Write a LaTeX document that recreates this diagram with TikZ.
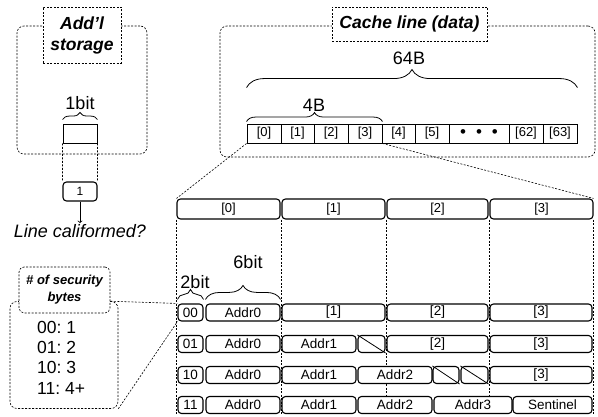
\documentclass[tikz,border=0pt]{standalone}
\usepackage{fontspec}
\setmainfont{Liberation Sans}
\usetikzlibrary{decorations.pathreplacing,backgrounds}
\frenchspacing

\tikzset{
	cell/.style={draw,fill=white,line width=0.9pt,minimum height=19,inner sep=0pt,font=\fontsize{13}{13}\selectfont},
	field/.style={draw,fill=white,line width=1.1pt,rounded corners=3.5pt,minimum height=17,inner sep=0pt,font=\fontsize{13.5}{13.5}\selectfont},
	dashline/.style={line width=0.6pt,dash pattern=on 2pt off 1.5pt},
	outerbox/.style={dashline,draw,rounded corners=7pt,inner sep=0pt},
	titlebox/.style={dashline,draw,fill=white,inner sep=0pt,align=center,font=\fontsize{17.5}{21}\selectfont\bfseries\itshape},
	label/.style={inner sep=1pt,font=\fontsize{18}{18}\selectfont},
	bracket/.style={decorate,line width=0.8pt,decoration={brace,amplitude=#1}}
}

\begin{document}
\begin{tikzpicture}[x=1pt,y=-1pt]
	\useasboundingbox (0,0) rectangle (598,417);

	% dashed frames with their titles
	\begin{scope}
		\node[outerbox,minimum width=130,minimum height=128] (storebox) at (82,90) {};
		\node[titlebox,minimum width=78,minimum height=56] (storetitle) at (82,35) {Add’l\\storage};
		\node[outerbox,minimum width=375,minimum height=131] (cachebox) at (407.5,91.5) {};
		\node[titlebox,minimum width=155,minimum height=34] (cachetitle) at (409.5,24) {Cache line (data)};
		\node[outerbox,minimum width=108,minimum height=107] (secbox) at (64,355) {};
		\node[titlebox,rounded corners=5pt,minimum width=91,minimum height=46,font=\fontsize{13}{17}\selectfont\bfseries\itshape] (sectitle) at (64.5,290) {\# of security\\bytes};
	\end{scope}

	% additional storage bit
	\begin{scope}
		\node[cell,minimum width=34] (bitbox) at (80,133.5) {};
		\node[field,minimum width=34,minimum height=19,font=\fontsize{12}{12}\selectfont] (onebox) at (80,191.5) {1};
		\node[label] (bitlabel) at (80,103) {1bit};
		\node[label,font=\fontsize{18}{18}\selectfont\itshape] (question) at (80,231) {Line califormed?};
	\end{scope}

	% the 64 bytes of the cache line
	\begin{scope}[every node/.style={cell}]
		\node[minimum width=34] (c0) at (264,133.5) {[0]};
		\node[minimum width=33] (c1) at (297.5,133.5) {[1]};
		\node[minimum width=34] (c2) at (331,133.5) {[2]};
		\node[minimum width=34] (c3) at (365,133.5) {[3]};
		\node[minimum width=33] (c4) at (398.5,133.5) {[4]};
		\node[minimum width=34] (c5) at (432,133.5) {[5]};
		\node[minimum width=60,font=\fontsize{17}{17}\selectfont] (cdots) at (479,133.5) {•\hspace{10pt}•\hspace{10pt}•};
		\node[minimum width=34] (c62) at (526,133.5) {[62]};
		\node[minimum width=34] (c63) at (560,133.5) {[63]};
	\end{scope}
	\node[label] (cachelabel) at (409,58) {64B};
	\node[label] (wordlabel) at (314,105) {4B};

	% first four bytes
	\begin{scope}[every node/.style={field,minimum height=20,font=\fontsize{13}{13}\selectfont}]
		\node[minimum width=103] (h0) at (228.5,209) {[0]};
		\node[minimum width=103] (h1) at (333.5,209) {[1]};
		\node[minimum width=101] (h2) at (437.5,209) {[2]};
		\node[minimum width=103] (h3) at (541.5,209) {[3]};
	\end{scope}

	% encodings
	\begin{scope}[every node/.style={field}]
		\node[minimum width=25] (r1a) at (190.5,312.5) {00};
		\node[minimum width=74] (r1b) at (243,312.5) {Addr0};
		\node[minimum width=103] (r1c) at (333.5,312.5) {[1]};
		\node[minimum width=101] (r1d) at (437.5,312.5) {[2]};
		\node[minimum width=102] (r1e) at (541,312.5) {[3]};

		\node[minimum width=25] (r2a) at (190.5,344) {01};
		\node[minimum width=74] (r2b) at (243,344) {Addr0};
		\node[minimum width=74] (r2c) at (319,344) {Addr1};
		\node[minimum width=27] (r2s) at (371.5,344) {};
		\node[minimum width=101] (r2d) at (437.5,344) {[2]};
		\node[minimum width=102] (r2e) at (541,344) {[3]};

		\node[minimum width=25] (r3a) at (190.5,375) {10};
		\node[minimum width=74] (r3b) at (243,375) {Addr0};
		\node[minimum width=74] (r3c) at (319,375) {Addr1};
		\node[minimum width=74] (r3d) at (395,375) {Addr2};
		\node[minimum width=26] (r3s) at (446,375) {};
		\node[minimum width=27] (r3t) at (474.5,375) {};
		\node[minimum width=102] (r3e) at (541,375) {[3]};

		\node[minimum width=25] (r4a) at (190.5,405) {11};
		\node[minimum width=74] (r4b) at (243,405) {Addr0};
		\node[minimum width=74] (r4c) at (319,405) {Addr1};
		\node[minimum width=74] (r4d) at (395,405) {Addr2};
		\node[minimum width=78] (r4e) at (473,405) {Addr3};
		\node[minimum width=79] (r4f) at (552.5,405) {Sentinel};
	\end{scope}
	\node[label] (twolabel) at (195,282) {2bit};
	\node[label] (sixlabel) at (248,262) {6bit};

	\node[anchor=west,align=left,inner sep=0pt,font=\fontsize{17.5}{20.3}\selectfont] (seclist) at (37,357.5) {00: 1\\01: 2\\10: 3\\11: 4+};

	% unused slots
	\begin{scope}[line width=0.8pt]
		\draw (r2s.north west) -- (r2s.south east);
		\draw (r3s.north west) -- (r3s.south east);
		\draw (r3t.north west) -- (r3t.south east);
	\end{scope}

	% braces
	\draw[bracket=7] ([yshift=4]bitbox.north west) -- ([yshift=4]bitbox.north east);
	\draw[bracket=18] ([yshift=36]c0.north west) -- ([yshift=36]c63.north east);
	\draw[bracket=9] ([yshift=2]c0.north west) -- ([yshift=2]c3.north east);
	\draw[bracket=10] ([yshift=4]r1a.north west) -- ([yshift=4]r1a.north east);
	\draw[bracket=14] ([yshift=4]r1b.north west) -- ([yshift=4]r1b.north east);

	% zoom lines
	\begin{scope}[dashline]
		\draw (bitbox.south west) -- (onebox.north west);
		\draw (bitbox.south east) -- (onebox.north east);
		\draw (c0.south west) -- (h0.north west);
		\draw (c3.south east) -- (h3.north east);
		\draw (sectitle.east |- secbox.north) -- (r1a.north west);
		\draw (secbox.south east) -- (r1a.south west);
	\end{scope}
	\begin{pgfonlayer}{background}
		\begin{scope}[dashline]
			\draw (h0.south west) -- (h0.south west |- r4a.south);
			\draw (h1.south west) -- (h1.south west |- r4a.south);
			\draw (h2.south west) -- (h2.south west |- r4a.south);
			\draw (h3.south west) -- (h3.south west |- r4a.south);
			\draw (h3.south east) -- (h3.south east |- r4a.south);
		\end{scope}
	\end{pgfonlayer}

	\draw[->,line width=0.8pt] (onebox.south) -- (question.north);
\end{tikzpicture}
\end{document}
